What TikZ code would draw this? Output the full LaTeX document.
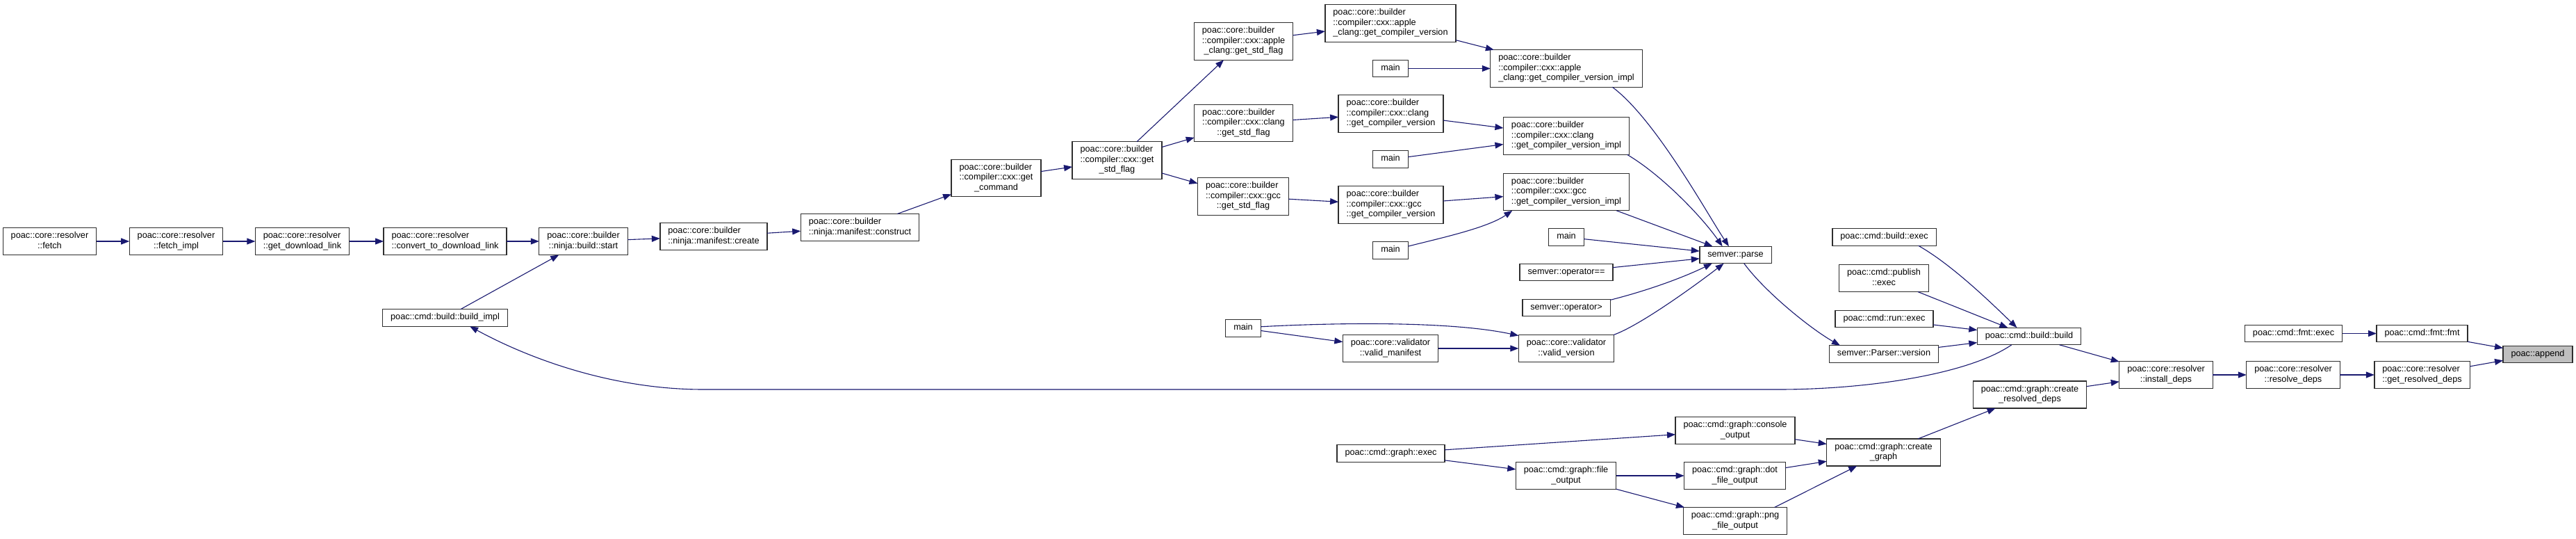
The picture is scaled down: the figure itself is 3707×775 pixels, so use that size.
\documentclass[tikz,border=0pt]{standalone}
\usepackage{fontspec}
\setmainfont{Liberation Sans}
\usetikzlibrary{arrows.meta}
\definecolor{cedge}{HTML}{191970}
\definecolor{cbox}{HTML}{2E2E2E}
\definecolor{cfocus}{HTML}{BFBFBF}
% two / three line labels: last line centred, the others flush left
\newcommand{\fnii}[2]{\begin{tabular}{@{}l@{}}#1\\\multicolumn{1}{@{}c@{}}{#2}\end{tabular}}
\newcommand{\fniii}[3]{\begin{tabular}{@{}l@{}}#1\\#2\\\multicolumn{1}{@{}c@{}}{#3}\end{tabular}}
\tikzset{
  every picture/.style={font=\fontsize{12.7}{14.5}\selectfont},
  fn/.style={draw=cbox, fill=white, line width=1.4pt, inner xsep=11.5pt, inner ysep=5pt, outer sep=0pt, execute at begin node=\strut},
  focus/.style={fn, fill=cfocus},
  call/.style={-{Triangle[length=12pt, width=9pt]}, draw=cedge, line width=1.1pt},
}

\begin{document}
\begin{tikzpicture}[x=1pt, y=-1pt]
  \useasboundingbox (0,0) rectangle (3707,775);
  % resolver / ninja chain
  \node[fn] (fetch)      at (71.5,347)  {\fnii{poac::core::resolver}{::fetch}};
  \node[fn] (fetchimpl)  at (253.5,347) {\fnii{poac::core::resolver}{::fetch\_impl}};
  \node[fn] (getdl)      at (435,347)   {\fnii{poac::core::resolver}{::get\_download\_link}};
  \node[fn] (convert)    at (640.5,347) {\fnii{poac::core::resolver}{::convert\_to\_download\_link}};
  \node[fn] (buildimpl)  at (640.5,457) {poac::cmd::build::build\_impl};
  \node[fn] (start)      at (839.5,347) {\fnii{poac::core::builder}{::ninja::build::start}};
  \node[fn] (mcreate)    at (1027,340)  {\fnii{poac::core::builder}{::ninja::manifest::create}};
  \node[fn] (construct)  at (1237.5,327) {\fnii{poac::core::builder}{::ninja::manifest::construct}};
  \node[fn] (getcommand) at (1433.5,256) {\fniii{poac::core::builder}{::compiler::cxx::get}{\_command}};
  \node[fn] (getstdflag) at (1607.5,230.5) {\fniii{poac::core::builder}{::compiler::cxx::get}{\_std\_flag}};
  % compilers
  \node[fn] (applestd)   at (1789.5,59.5) {\fniii{poac::core::builder}{::compiler::cxx::apple}{\_clang::get\_std\_flag}};
  \node[fn] (clangstd)   at (1789.5,177)  {\fniii{poac::core::builder}{::compiler::cxx::clang}{::get\_std\_flag}};
  \node[fn] (gccstd)     at (1789,282.5)  {\fniii{poac::core::builder}{::compiler::cxx::gcc}{::get\_std\_flag}};
  \node[fn] (applever)   at (2001,33.5)   {\fniii{poac::core::builder}{::compiler::cxx::apple}{\_clang::get\_compiler\_version}};
  \node[fn] (mainA)      at (2001,98.5)   {main};
  \node[fn] (clangver)   at (2001.5,163.5) {\fniii{poac::core::builder}{::compiler::cxx::clang}{::get\_compiler\_version}};
  \node[fn] (mainB)      at (2001,229)    {main};
  \node[fn] (gccver)     at (2001.5,294.5) {\fniii{poac::core::builder}{::compiler::cxx::gcc}{::get\_compiler\_version}};
  \node[fn] (mainC)      at (2001,360)    {main};
  \node[fn] (appleimpl)  at (2254,98.5)   {\fniii{poac::core::builder}{::compiler::cxx::apple}{\_clang::get\_compiler\_version\_impl}};
  \node[fn] (clangimpl)  at (2254,195.5)  {\fniii{poac::core::builder}{::compiler::cxx::clang}{::get\_compiler\_version\_impl}};
  \node[fn] (gccimpl)    at (2254,276)    {\fniii{poac::core::builder}{::compiler::cxx::gcc}{::get\_compiler\_version\_impl}};
  % semver
  \node[fn] (mainD)      at (2254,341)    {main};
  \node[fn] (opeq)       at (2254,391.5)  {semver::operator==};
  \node[fn] (opgt)       at (2254,442.5)  {semver::operator>};
  \node[fn] (mainE)      at (1789,472)    {main};
  \node[fn] (validman)   at (2001,501)    {\fnii{poac::core::validator}{::valid\_manifest}};
  \node[fn] (validver)   at (2254,501)    {\fnii{poac::core::validator}{::valid\_version}};
  \node[fn] (parse)      at (2497.5,366.5) {semver::parse};
  % cmd
  \node[fn] (buildexec)  at (2711.5,341)  {poac::cmd::build::exec};
  \node[fn] (publishexec) at (2711,400)   {\fnii{poac::cmd::publish}{::exec}};
  \node[fn] (runexec)    at (2711.5,458.5) {poac::cmd::run::exec};
  \node[fn] (parserver)  at (2711,509)    {semver::Parser::version};
  \node[fn] (build)      at (2920,483.5)  {poac::cmd::build::build};
  \node[fn] (createres)  at (2921,567.5)  {\fnii{poac::cmd::graph::create}{\_resolved\_deps}};
  \node[fn] (install)    at (3117,539)    {\fnii{poac::core::resolver}{::install\_deps}};
  \node[fn] (resolve)    at (3300,539)    {\fnii{poac::core::resolver}{::resolve\_deps}};
  \node[fn] (getres)     at (3485.5,539)  {\fnii{poac::core::resolver}{::get\_resolved\_deps}};
  \node[fn] (fmtexec)    at (3300.5,479.5) {poac::cmd::fmt::exec};
  \node[fn] (fmtfmt)     at (3485.5,479.5) {poac::cmd::fmt::fmt};
  \node[focus] (append)  at (3652,509.5)  {poac::append};
  % graph
  \node[fn] (graphexec)  at (2001.5,652)  {poac::cmd::graph::exec};
  \node[fn] (console)    at (2497,619)    {\fnii{poac::cmd::graph::console}{\_output}};
  \node[fn] (fileout)    at (2253.5,684)  {\fnii{poac::cmd::graph::file}{\_output}};
  \node[fn] (dotout)     at (2496.5,684)  {\fnii{poac::cmd::graph::dot}{\_file\_output}};
  \node[fn] (pngout)     at (2497,749)    {\fnii{poac::cmd::graph::png}{\_file\_output}};
  \node[fn] (creategraph) at (2710.5,650.5) {\fnii{poac::cmd::graph::create}{\_graph}};

  % calls
  \draw[call] (fetch) -- (fetchimpl);
  \draw[call] (fetchimpl) -- (getdl);
  \draw[call] (getdl) -- (convert);
  \draw[call] (convert) -- (start);
  \draw[call] (buildimpl) -- (start);
  \draw[call] (start) -- (mcreate);
  \draw[call] (mcreate) -- (construct);
  \draw[call] (construct) -- (getcommand);
  \draw[call] (getcommand) -- (getstdflag);
  \draw[call] (getstdflag) -- (applestd);
  \draw[call] (getstdflag) -- (clangstd);
  \draw[call] (getstdflag) -- (gccstd);
  \draw[call] (applestd) -- (applever);
  \draw[call] (clangstd) -- (clangver);
  \draw[call] (gccstd) -- (gccver);
  \draw[call] (applever) -- (appleimpl);
  \draw[call] (mainA) -- (appleimpl);
  \draw[call] (clangver) -- (clangimpl);
  \draw[call] (mainB) -- (clangimpl);
  \draw[call] (gccver) -- (gccimpl);
  \draw[call] (mainC.13) .. controls (2070,343) and (2140,328) .. (gccimpl.199);
  \draw[call] (appleimpl.-22) .. controls (2382,171) and (2457,308) .. (parse.128);
  \draw[call] (clangimpl.-17) .. controls (2392,252) and (2450,313) .. (parse.147);
  \draw[call] (gccimpl) -- (parse);
  \draw[call] (mainD) -- (parse);
  \draw[call] (opeq) -- (parse);
  \draw[call] (opgt.10) .. controls (2370,418) and (2420,400) .. (parse.200);
  \draw[call] (validver.16) .. controls (2360,468) and (2440,410) .. (parse.216);
  \draw[call] (mainE.5) .. controls (1900,465) and (2080,460) .. (validver.165);
  \draw[call] (mainE) -- (validman);
  \draw[call] (validman) -- (validver);
  \draw[call] (parse.-45) .. controls (2540,420) and (2606,473) .. (parserver.169);
  \draw[call] (buildexec.-14) .. controls (2810,381) and (2870,440) .. (build.145);
  \draw[call] (publishexec) -- (build);
  \draw[call] (runexec) -- (build);
  \draw[call] (parserver) -- (build);
  \draw[call] (build.206) .. controls (2830,540) and (2680,560) .. (2560,560)
    -- (1012,560) .. controls (880,560) and (760,515) .. (buildimpl.-19);
  \draw[call] (build) -- (install);
  \draw[call] (createres) -- (install);
  \draw[call] (install) -- (resolve);
  \draw[call] (resolve) -- (getres);
  \draw[call] (getres) -- (append);
  \draw[call] (fmtexec) -- (fmtfmt);
  \draw[call] (fmtfmt) -- (append);
  \draw[call] (graphexec) -- (console);
  \draw[call] (graphexec) -- (fileout);
  \draw[call] (fileout) -- (dotout);
  \draw[call] (fileout) -- (pngout);
  \draw[call] (console) -- (creategraph);
  \draw[call] (dotout) -- (creategraph);
  \draw[call] (pngout.19) -- (creategraph.207);
  \draw[call] (creategraph) -- (createres);
\end{tikzpicture}
\end{document}
